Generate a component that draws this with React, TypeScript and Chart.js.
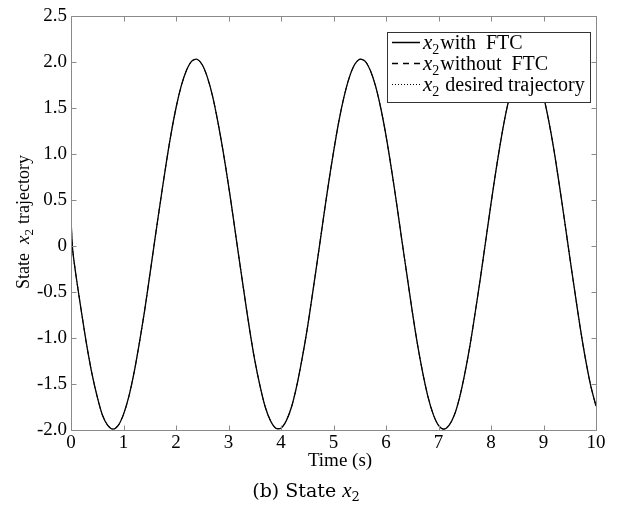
import React, { useEffect, useRef } from "react";
import { Chart, registerables } from "chart.js";

Chart.register(...registerables);

// ---- data ----
const timeSec = [
  0, 0.03, 0.1, 0.2, 0.3, 0.4, 0.5, 0.6, 0.7, 0.8, 0.9,
  1.0, 1.1, 1.2, 1.3, 1.4, 1.5, 1.6, 1.7, 1.8, 1.9,
  2.0, 2.1, 2.2, 2.3, 2.4, 2.5, 2.6, 2.7, 2.8, 2.9,
  3.0, 3.1, 3.2, 3.3, 3.4, 3.5, 3.6, 3.7, 3.8, 3.9,
  4.0, 4.1, 4.2, 4.3, 4.4, 4.5, 4.6, 4.7, 4.8, 4.9,
  5.0, 5.1, 5.2, 5.3, 5.4, 5.5, 5.6, 5.7, 5.8, 5.9,
  6.0, 6.1, 6.2, 6.3, 6.4, 6.5, 6.6, 6.7, 6.8, 6.9,
  7.0, 7.1, 7.2, 7.3, 7.4, 7.5, 7.6, 7.7, 7.8, 7.9,
  8.0, 8.1, 8.2, 8.3, 8.4, 8.5, 8.6, 8.7, 8.8, 8.9,
  9.0, 9.1, 9.2, 9.3, 9.4, 9.5, 9.6, 9.7, 9.8, 9.9,
  10.0,
];

const x2WithFTC = [
  0.30, -0.03, -0.34, -0.72, -1.08, -1.39, -1.64, -1.84, -1.95, -1.99, -1.95,
  -1.83, -1.64, -1.38, -1.06, -0.71, -0.32, 0.08, 0.47, 0.85, 1.20,
  1.50, 1.74, 1.91, 2.01, 2.03, 1.97, 1.83, 1.62, 1.34, 1.02,
  0.66, 0.27, -0.13, -0.52, -0.90, -1.24, -1.52, -1.75, -1.90, -1.98,
  -1.98, -1.90, -1.75, -1.52, -1.23, -0.90, -0.52, -0.13, 0.27, 0.66,
  1.02, 1.35, 1.62, 1.83, 1.97, 2.03, 2.01, 1.91, 1.74, 1.50,
  1.20, 0.85, 0.47, 0.07, -0.32, -0.71, -1.07, -1.38, -1.64, -1.83,
  -1.95, -1.99, -1.95, -1.84, -1.65, -1.39, -1.08, -0.72, -0.34, 0.06,
  0.46, 0.84, 1.19, 1.49, 1.73, 1.91, 2.01, 2.03, 1.97, 1.84,
  1.63, 1.36, 1.04, 0.67, 0.28, -0.12, -0.51, -0.89, -1.23, -1.52,
  -1.74,
];

// the other two curves coincide with the FTC curve in the picture
const x2WithoutFTC = x2WithFTC;
const x2Desired = x2WithFTC;

const xTickValues = [0, 1, 2, 3, 4, 5, 6, 7, 8, 9, 10];
const yTickValues = [-2.0, -1.5, -1.0, -0.5, 0, 0.5, 1.0, 1.5, 2.0, 2.5];

const legendLabels = ["with  FTC", "without  FTC", " desired trajectory"];

const SERIF = '"Liberation Serif", "Times New Roman", serif';
const AXIS_COLOR = "#8a8a8a";

type Run = { text: string; font: string; dy?: number; gap?: number };

function drawRuns(
  ctx: CanvasRenderingContext2D,
  x: number,
  y: number,
  runs: Run[],
  align: "left" | "center"
) {
  let total = 0;
  const widths = runs.map((r) => {
    ctx.font = r.font;
    const w = ctx.measureText(r.text).width + (r.gap || 0);
    total += w;
    return w;
  });
  let cx = align === "center" ? x - total / 2 : x;
  ctx.textAlign = "left";
  ctx.textBaseline = "alphabetic";
  runs.forEach((r, i) => {
    ctx.font = r.font;
    ctx.fillText(r.text, cx, y + (r.dy || 0));
    cx += widths[i];
  });
}

const x2Runs = (size: number, subSize: number, gap: number): Run[] => [
  { text: "x", font: `italic ${size}px ${SERIF}` },
  { text: "2", font: `${subSize}px ${SERIF}`, dy: Math.round(size * 0.22), gap },
];

const decorPlugin = {
  id: "decor",
  afterDatasetsDraw(chart: any) {
    const { ctx, chartArea: a, scales } = chart;
    const L = Math.round(a.left) + 0.5;
    const R = Math.round(a.right) + 0.5;
    const T = Math.round(a.top) + 0.5;
    const B = Math.round(a.bottom) + 0.5;
    ctx.save();
    ctx.strokeStyle = AXIS_COLOR;
    ctx.lineWidth = 1;
    ctx.beginPath();
    ctx.rect(L, T, R - L, B - T);
    ctx.stroke();
    const tl = 5;
    ctx.beginPath();
    xTickValues.forEach((v) => {
      const px = Math.round(scales.x.getPixelForValue(v)) + 0.5;
      ctx.moveTo(px, B);
      ctx.lineTo(px, B - tl);
      ctx.moveTo(px, T);
      ctx.lineTo(px, T + tl);
    });
    yTickValues.forEach((v) => {
      const py = Math.round(scales.y.getPixelForValue(v)) + 0.5;
      ctx.moveTo(L, py);
      ctx.lineTo(L + tl, py);
      ctx.moveTo(R, py);
      ctx.lineTo(R - tl, py);
    });
    ctx.stroke();

    // legend box (opaque, covers the curve)
    const bx = 387.5, by = 32.5, bw = 203, bh = 70;
    ctx.fillStyle = "#ffffff";
    ctx.fillRect(bx, by, bw, bh);
    ctx.strokeStyle = "#333333";
    ctx.strokeRect(bx, by, bw, bh);
    const rows = [42.5, 63.5, 84.5];
    const dashes: number[][] = [[], [6, 5], [1, 2]];
    rows.forEach((ry, i) => {
      ctx.strokeStyle = "#000000";
      ctx.lineWidth = i === 2 ? 1 : 1.5;
      ctx.setLineDash(dashes[i]);
      ctx.beginPath();
      ctx.moveTo(392, ry);
      ctx.lineTo(420, ry);
      ctx.stroke();
      ctx.setLineDash([]);
      ctx.fillStyle = "#000000";
      drawRuns(
        ctx,
        423,
        ry + 6,
        [...x2Runs(21, 14, i === 2 ? 1 : 1), { text: legendLabels[i], font: `20px ${SERIF}` }],
        "left"
      );
    });
    ctx.restore();
  },
  afterDraw(chart: any) {
    const { ctx } = chart;
    ctx.save();
    ctx.fillStyle = "#000000";
    // x axis title
    drawRuns(ctx, 340, 466, [{ text: "Time (s)", font: `19px ${SERIF}` }], "center");
    // y axis title (rotated)
    ctx.save();
    ctx.translate(29, 222);
    ctx.rotate(-Math.PI / 2);
    drawRuns(
      ctx,
      0,
      0,
      [
        { text: "State  ", font: `18px ${SERIF}` },
        ...x2Runs(19, 13, 5),
        { text: "trajectory", font: `18px ${SERIF}` },
      ],
      "center"
    );
    ctx.restore();
    // caption
    const CAP = '"DejaVu Serif", serif';
    drawRuns(
      ctx,
      306,
      497,
      [
        { text: "(b) State ", font: `19px ${CAP}` },
        { text: "x", font: `italic 21px ${SERIF}` },
        { text: "2", font: `13px ${CAP}`, dy: 4 },
      ],
      "center"
    );
    ctx.restore();
  },
};

export default function App() {
  const ref = useRef<HTMLCanvasElement | null>(null);
  useEffect(() => {
    document.body.style.margin = "0";
    const canvas = ref.current;
    if (!canvas) return;
    const mk = (vals: number[]) => timeSec.map((t, i) => ({ x: t, y: vals[i] }));
    const chart = new Chart(canvas, {
      type: "line",
      data: {
        datasets: [
          {
            label: "x2 desired trajectory",
            data: mk(x2Desired),
            borderColor: "#000000",
            borderWidth: 0.8,
            borderDash: [1, 2],
            pointRadius: 0,
            tension: 0.3,
            order: 3,
          },
          {
            label: "x2 without FTC",
            data: mk(x2WithoutFTC),
            borderColor: "#000000",
            borderWidth: 0.8,
            borderDash: [6, 5],
            pointRadius: 0,
            tension: 0.3,
            order: 2,
          },
          {
            label: "x2 with FTC",
            data: mk(x2WithFTC),
            borderColor: "#000000",
            borderWidth: 1.3,
            pointRadius: 0,
            tension: 0.3,
            order: 1,
          },
        ],
      },
      options: {
        animation: false,
        responsive: false,
        maintainAspectRatio: false,
        layout: { padding: { left: 0, right: 21, top: 16, bottom: 0 } },
        plugins: { legend: { display: false }, tooltip: { enabled: false }, title: { display: false } },
        scales: {
          x: {
            type: "linear",
            min: 0,
            max: 10,
            afterFit: (s: any) => {
              s.height = 76;
            },
            afterBuildTicks: (s: any) => {
              s.ticks = xTickValues.map((v) => ({ value: v }));
            },
            grid: { display: false, drawTicks: false },
            border: { display: false },
            ticks: {
              padding: 2,
              color: "#000000",
              font: { family: SERIF, size: 19 },
              maxRotation: 0,
              autoSkip: false,
              callback: (v: any) => String(v),
            },
          },
          y: {
            type: "linear",
            min: -2.0,
            max: 2.5,
            afterFit: (s: any) => {
              s.width = 71;
            },
            afterBuildTicks: (s: any) => {
              s.ticks = yTickValues.map((v) => ({ value: v }));
            },
            grid: { display: false, drawTicks: false },
            border: { display: false },
            ticks: {
              padding: 4,
              color: "#000000",
              font: { family: SERIF, size: 19 },
              autoSkip: false,
              callback: (v: any) => (Number(v) === 0 ? "0" : Number(v).toFixed(1)),
            },
          },
        },
      },
      plugins: [decorPlugin],
    });
    return () => chart.destroy();
  }, []);
  return (
    <div style={{ position: "absolute", left: 0, top: 0, width: 617, height: 506, background: "#fff" }}>
      <canvas ref={ref} width={617} height={506} style={{ display: "block" }} />
    </div>
  );
}
